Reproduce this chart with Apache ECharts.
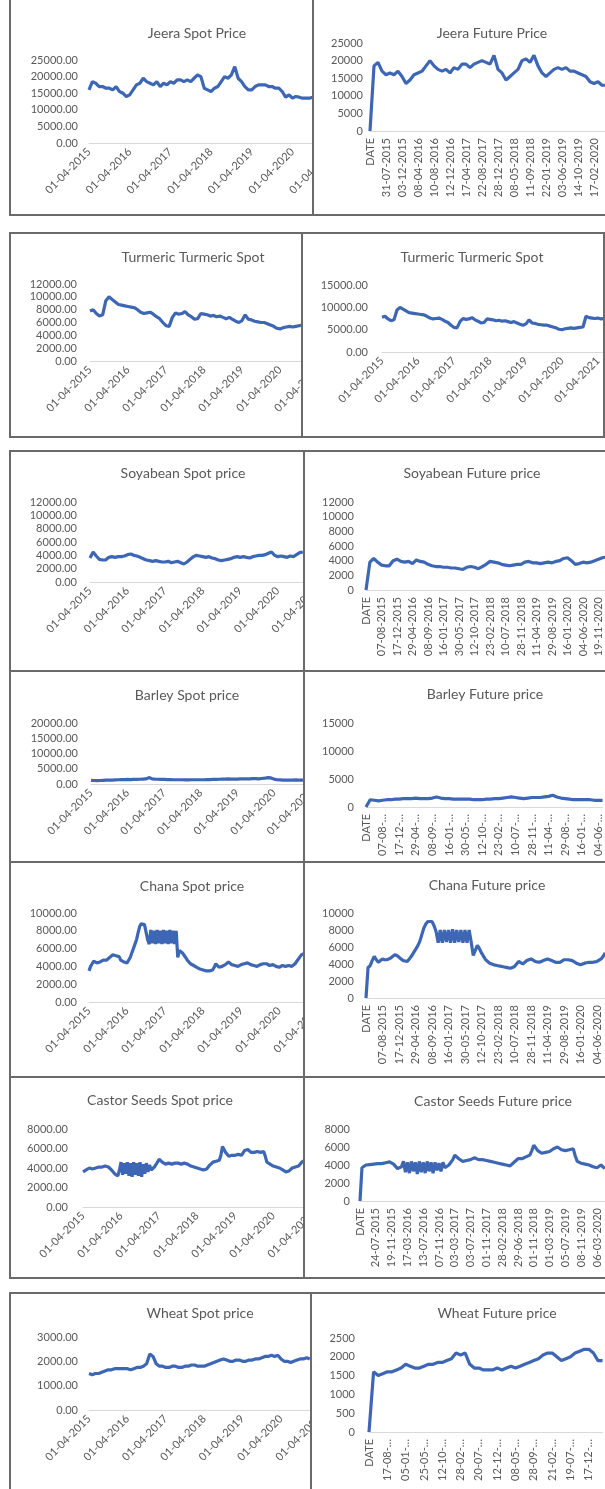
<!DOCTYPE html>
<html><head><meta charset="utf-8">
<script src="https://cdn.jsdelivr.net/npm/echarts@6/dist/echarts.min.js"></script>
<style>
html,body{margin:0;padding:0;background:#fff;}
#page{position:relative;width:605px;height:1489px;overflow:hidden;background:#fff;}
.clip{position:absolute;overflow:hidden;}
.chart{position:absolute;left:0;top:0;}
.ln{position:absolute;background:#6a6a6a;}
</style></head><body><div id="page"></div>
<script>
// ---------- tick labels ----------
const spotYearLabels = ['01-04-2015','01-04-2016','01-04-2017','01-04-2018','01-04-2019','01-04-2020','01-04-2021'];
const jeeraFutureLabels = ['DATE','31-07-2015','03-12-2015','08-04-2016','10-08-2016','12-12-2016','17-04-2017','22-08-2017','28-12-2017','08-05-2018','11-09-2018','22-01-2019','03-06-2019','14-10-2019','17-02-2020'];
const soyabeanFutureLabels = ['DATE','07-08-2015','17-12-2015','29-04-2016','08-09-2016','16-01-2017','30-05-2017','12-10-2017','23-02-2018','10-07-2018','28-11-2018','11-04-2019','29-08-2019','16-01-2020','04-06-2020','19-11-2020'];
const chanaFutureLabels = ['DATE','07-08-2015','17-12-2015','29-04-2016','08-09-2016','16-01-2017','30-05-2017','12-10-2017','23-02-2018','10-07-2018','28-11-2018','11-04-2019','29-08-2019','16-01-2020','04-06-2020'];
const barleyFutureLabels = ['DATE','07-08-…','17-12-…','29-04-…','08-09-…','16-01-…','30-05-…','12-10-…','23-02-…','10-07-…','28-11-…','11-04-…','29-08-…','16-01-…','04-06-…'];
const castorFutureLabels = ['DATE','24-07-2015','19-11-2015','17-03-2016','13-07-2016','07-11-2016','03-03-2017','03-07-2017','01-11-2017','28-02-2018','29-06-2018','01-11-2018','01-03-2019','05-07-2019','08-11-2019','06-03-2020'];
const wheatFutureLabels = ['DATE','17-08-…','05-01-…','25-05-…','12-10-…','28-02-…','20-07-…','12-12-…','08-05-…','28-09-…','21-02-…','19-07-…','17-12-…'];

// ---------- series values ----------
// spot: monthly from Apr-2015 (chana & castor: twice a month); future: 4 readings per label step (chana & castor: 8)
const jeeraSpot = [16000,18500,18000,17000,17000,16500,16500,16000,17000,15500,15000,14000,
 14500,16000,17500,18000,19500,18500,18000,17500,18500,17000,18000,17500,
 18500,18000,19000,19000,18500,19000,18500,19500,20500,20000,16500,16000,
 15500,16500,17000,18500,20000,19500,20500,23000,19500,18500,17000,16000,
 16000,17000,17500,17500,17500,17000,17000,16500,16500,15500,13800,14500,
 13500,14000,13800,13500,13500,13500,13800];
const jeeraFuture = [0,18500,19500,17000,16000,16500,16000,17000,15500,13500,14500,16000,
 16500,17000,18500,20000,18500,17500,17000,17500,16500,18000,17500,19000,
 19000,18000,19000,19500,20000,19500,19000,21500,17500,16500,14500,15500,
 16500,17500,20000,20500,19500,21500,18500,16500,15500,16500,17500,18000,
 17500,18000,17000,17000,16500,16000,15500,14000,13500,14000,13000,13000];
const turmericSpot = [7800,8000,7400,7000,7200,9400,10000,9600,9200,8800,8700,8600,
 8500,8400,8300,8000,7600,7400,7500,7600,7300,6900,6600,6000,
 5500,5400,6800,7500,7300,7400,7700,7200,6900,6500,6600,7400,
 7300,7200,7000,7100,6900,7000,6800,6600,6800,6500,6200,6000,
 6300,7200,6500,6400,6200,6100,6000,6000,5800,5600,5400,5100,
 5000,5200,5300,5400,5300,5400,5500,5600,8000,7700,7600,7500,
 7600,7400,7500];
const soyabeanSpot = [3600,4500,3900,3400,3300,3300,3700,3800,3700,3800,3800,3900,
 4100,4200,4000,3900,3700,3500,3300,3200,3100,3200,3100,3000,
 3000,3100,2900,3000,3100,2900,2700,3000,3400,3800,4000,3900,
 3800,3700,3800,3600,3500,3300,3200,3300,3400,3500,3700,3800,
 3700,3800,3700,3600,3800,3900,4000,4000,4100,4300,4500,4000,
 3800,3900,3800,3700,3900,3800,4100,4400,4500];
const soyabeanFuture = [0,3800,4300,3800,3400,3300,3300,4000,4200,3900,3800,3900,
 3600,4100,3900,3800,3500,3300,3200,3200,3100,3100,3000,3000,
 2900,2800,3100,3200,3100,2900,3200,3500,3900,3800,3700,3500,
 3400,3300,3400,3500,3500,3800,3900,3700,3700,3600,3700,3800,
 3700,3900,4000,4300,4400,4000,3500,3600,3800,3700,3800,4000,
 4200,4400,4500];
const barleySpot = [1200,1150,1100,1150,1200,1250,1300,1300,1350,1400,1450,1450,
 1500,1450,1500,1500,1550,1600,1650,2100,1700,1600,1550,1500,
 1500,1450,1450,1400,1400,1400,1400,1350,1350,1400,1400,1400,
 1400,1400,1450,1450,1500,1500,1550,1600,1600,1650,1600,1600,
 1600,1650,1650,1700,1700,1750,1750,1700,1800,1900,2100,2000,
 1600,1400,1350,1300,1300,1300,1300,1350,1300,1300,1300];
const barleyFuture = [0,1300,1200,1100,1200,1300,1300,1400,1400,1500,1500,1500,
 1600,1500,1500,1500,1600,1800,1600,1500,1500,1400,1400,1400,
 1400,1400,1300,1300,1300,1400,1400,1500,1500,1600,1700,1800,
 1700,1600,1500,1600,1700,1700,1700,1800,1900,2100,1800,1600,
 1500,1400,1300,1300,1300,1300,1300,1200,1200,1200];
const chanaSpot = [3500,4000,4300,4600,4600,4400,4400,4500,4600,4700,4800,4700,
 4900,5000,5100,5300,5300,5200,5300,5100,4700,4600,4500,4400,
 4400,4600,5000,5500,6000,6500,7000,7800,8500,8800,9000,8700,
 8800,7000,6500,8100,6600,8000,6500,8100,6600,8000,6500,8100,
 6600,8000,6500,8100,6600,8000,6500,8000,5000,5800,6000,5500,
 5300,5000,4700,4500,4300,4200,4100,4000,3900,3800,3700,3650,
 3600,3550,3500,3500,3500,3550,3600,3900,4300,4100,3900,3900,
 4000,4100,4200,4400,4500,4300,4200,4150,4100,4050,4000,4100,
 4200,4250,4300,4350,4400,4300,4200,4150,4100,4050,4000,4100,
 4200,4250,4300,4300,4300,4200,4100,4150,4200,4100,4000,3950,
 3900,4000,4100,4050,4000,4050,4100,4050,4000,4100,4300,4500,
 4800,5000,5300,5400,5500];
const chanaFuture = [0,3600,3800,4400,4900,4500,4200,4400,4600,4500,4500,4600,
 4700,4900,5100,5000,4800,4600,4400,4350,4300,4600,4900,5300,
 5700,6100,6600,7400,8200,8700,9000,9000,9000,8500,7800,6500,
 8000,6500,8000,6600,8000,6500,8100,6500,8000,6600,8000,6500,
 8000,6500,8000,6600,5000,5600,6200,5800,5300,4900,4500,4300,
 4100,4000,3900,3850,3800,3750,3700,3650,3600,3550,3500,3600,
 3700,4000,4300,4150,4000,4200,4400,4500,4600,4450,4300,4250,
 4200,4300,4400,4500,4600,4500,4400,4300,4200,4200,4200,4350,
 4500,4500,4500,4450,4400,4250,4100,4000,3900,4000,4100,4150,
 4200,4200,4200,4250,4300,4450,4600,4900,5300];
const castorSpot = [3600,3700,3800,3900,4000,4000,3900,3950,4000,4050,4100,4100,
 4100,4150,4200,4200,4100,4000,3800,3600,3400,3300,3200,3800,
 4600,3300,4500,3400,4600,3200,4500,3100,4600,3300,4500,3200,
 4600,3100,4400,3400,4500,3600,4300,3800,4000,4100,4300,4600,
 4900,4800,4600,4500,4400,4450,4500,4400,4400,4500,4500,4500,
 4500,4450,4400,4450,4500,4450,4400,4300,4200,4150,4100,4050,
 4000,3950,3900,3850,3800,3850,3900,4100,4300,4500,4600,4650,
 4700,4750,4800,5300,6200,5900,5600,5400,5200,5250,5300,5300,
 5300,5350,5400,5350,5300,5500,5800,5900,5900,5700,5600,5600,
 5600,5650,5700,5650,5600,5650,5700,5200,4600,4500,4400,4300,
 4200,4150,4100,4050,4000,3900,3800,3700,3600,3650,3700,3850,
 4000,4050,4100,4150,4200,4400,4600,4700,4800];
const castorFuture = [0,3700,3800,4000,4100,4050,4000,4100,4200,4150,4100,4150,
 4200,4250,4300,4350,4400,4100,3900,3600,3400,3800,4400,3200,
 4300,3100,4400,3300,4300,3000,4400,3200,4300,3100,4400,3300,
 4300,3100,4300,3400,4200,3300,4300,3700,3900,4000,4200,4600,
 5100,4900,4700,4500,4400,4450,4500,4550,4600,4700,4800,4700,
 4600,4600,4600,4550,4500,4450,4400,4350,4300,4250,4200,4150,
 4100,4050,4000,3950,3900,4100,4300,4500,4700,4700,4700,4800,
 4900,5000,5100,5600,6200,5900,5600,5400,5300,5350,5400,5450,
 5500,5600,5800,5900,6000,5800,5700,5650,5600,5650,5700,5750,
 5800,5000,4400,4300,4200,4150,4100,4050,4000,3900,3800,3750,
 3700,3850,4000,3800,3600];
const wheatSpot = [1500,1450,1500,1500,1550,1600,1650,1650,1700,1700,1700,1700,
 1700,1650,1700,1750,1750,1800,1900,2300,2200,1900,1800,1800,
 1750,1750,1800,1800,1750,1750,1800,1800,1850,1850,1800,1800,
 1800,1850,1900,1950,2000,2050,2100,2050,2000,2000,2050,2050,
 2000,2000,2050,2050,2100,2100,2150,2200,2200,2250,2200,2250,
 2100,2000,2000,1950,2000,2050,2100,2100,2150,2100];
const wheatFuture = [0,1600,1500,1550,1600,1600,1650,1700,1800,1750,1700,1700,
 1750,1800,1800,1850,1850,1900,1950,2100,2050,2100,1800,1700,
 1700,1650,1650,1650,1700,1650,1700,1750,1700,1750,1800,1850,
 1900,1950,2050,2100,2100,2000,1900,1950,2000,2100,2150,2200,
 2200,2100,1900,1900];

// ---------- layout (page pixels) ----------
const panels = [
 {clip:[11,0,312,214], title:'Jeera Spot Price', tx:197, ty:33, yMax:25000, yInt:5000, dec:2, yTop:60, yBot:143, lblR:78, x0:89, step:3.39, sub:1, kind:'spot', data:jeeraSpot},
 {clip:[314,0,605,214], title:'Jeera Future Price', tx:492, ty:33, yMax:25000, yInt:5000, dec:0, yTop:43, yBot:131, lblR:363, x0:370, step:4, sub:1, kind:'fut', labels:jeeraFutureLabels, data:jeeraFuture},
 {clip:[11,234,301,436], title:'Turmeric Turmeric Spot', tx:193, ty:257, yMax:12000, yInt:2000, dec:2, yTop:284, yBot:361, lblR:77, x0:90, step:3.167, sub:1, kind:'spot', data:turmericSpot},
 {clip:[303,234,603,436], title:'Turmeric Turmeric Spot', tx:472, ty:257, yMax:15000, yInt:5000, dec:2, yTop:285, yBot:352, lblR:368, x0:382, step:3.0, sub:1, kind:'spot', data:turmericSpot},
 {clip:[11,452,303,670], title:'Soyabean Spot price', tx:183, ty:473, yMax:12000, yInt:2000, dec:2, yTop:502, yBot:582, lblR:77, x0:90, step:3.13, sub:1, kind:'spot', data:soyabeanSpot},
 {clip:[305,452,605,670], title:'Soyabean Future price', tx:472, ty:473, yMax:12000, yInt:2000, dec:0, yTop:502, yBot:590, lblR:354, x0:366, step:3.875, sub:1, kind:'fut', labels:soyabeanFutureLabels, data:soyabeanFuture},
 {clip:[11,672,303,861], title:'Barley Spot price', tx:187, ty:695, yMax:20000, yInt:5000, dec:2, yTop:723, yBot:784, lblR:78, x0:91, step:3.05, sub:1, kind:'spot', data:barleySpot},
 {clip:[305,672,605,861], title:'Barley Future price', tx:485, ty:694, yMax:15000, yInt:5000, dec:0, yTop:723, yBot:807, lblR:354, x0:366, step:4.15, sub:1, kind:'fut', labels:barleyFutureLabels, data:barleyFuture},
 {clip:[11,863,303,1076], title:'Chana Spot price', tx:192, ty:886, yMax:10000, yInt:2000, dec:2, yTop:913, yBot:1002, lblR:77, x0:89, step:3.17, sub:2, kind:'spot', data:chanaSpot},
 {clip:[305,863,605,1076], title:'Chana Future price', tx:487, ty:885, yMax:10000, yInt:2000, dec:0, yTop:913, yBot:998, lblR:354, x0:366, step:4.125, sub:2, kind:'fut', labels:chanaFutureLabels, data:chanaFuture},
 {clip:[11,1078,303,1277], title:'Castor Seeds Spot price', tx:160, ty:1100, yMax:8000, yInt:2000, dec:2, yTop:1129, yBot:1207, lblR:68, x0:83, step:3.17, sub:2, kind:'spot', data:castorSpot},
 {clip:[305,1078,605,1277], title:'Castor Seeds Future price', tx:493, ty:1101, yMax:8000, yInt:2000, dec:0, yTop:1129, yBot:1201, lblR:350, x0:360, step:3.95, sub:2, kind:'fut', labels:castorFutureLabels, data:castorFuture},
 {clip:[11,1294,310,1489], title:'Wheat Spot price', tx:200, ty:1313, yMax:3000, yInt:1000, dec:2, yTop:1337, yBot:1410, lblR:78, x0:89, step:3.2, sub:1, kind:'spot', data:wheatSpot},
 {clip:[312,1294,605,1489], title:'Wheat Future price', tx:497, ty:1313, yMax:2500, yInt:500, dec:0, yTop:1338, yBot:1432, lblR:355, x0:369, step:4.58, sub:1, kind:'fut', labels:wheatFutureLabels, data:wheatFuture}
];

const borders = [
 [9,0,2,216],[9,214,596,2],[312,0,2,216],
 [9,232,596,2],[9,436,596,2],[9,232,2,206],[603,232,2,206],[301,232,2,206],
 [9,450,596,2],[9,670,596,2],[9,861,596,2],[9,1076,596,2],[9,1277,596,2],[9,450,2,829],[303,450,2,829],
 [9,1292,596,2],[9,1292,2,197],[310,1292,2,197]
];

const FONT = 'Lato, "Open Sans", sans-serif';
const TXT = '#595959';
const LINE = '#3d66b5';
const page = document.getElementById('page');

panels.forEach(p => {
  const [cx0, cy0, cx1, cy1] = p.clip;
  const clip = document.createElement('div');
  clip.className = 'clip';
  Object.assign(clip.style, {left: cx0+'px', top: cy0+'px', width: (cx1-cx0)+'px', height: (cy1-cy0)+'px'});
  page.appendChild(clip);

  const sub = p.sub || 1;
  const step = p.step / sub;
  let n, every, labelList, rotate;
  if (p.kind === 'spot') {
    every = 12 * sub; labelList = spotYearLabels; rotate = 45;
    n = Math.max(p.data.length, (labelList.length - 1) * every + 4 * sub);
  } else {
    every = 4 * sub; labelList = p.labels; rotate = 90;
    n = Math.max(p.data.length, (labelList.length - 1) * every + 1);
  }
  const cats = [];
  for (let i = 0; i < n; i++) cats.push(String(i));
  const xEnd = p.x0 + step * (n - 1);
  const W = Math.max(cx1 - cx0, Math.ceil(xEnd - cx0 + 60));
  const H = cy1 - cy0;
  const el = document.createElement('div');
  el.className = 'chart';
  el.style.width = W + 'px'; el.style.height = H + 'px';
  clip.appendChild(el);

  const chart = echarts.init(el, null, {renderer: 'canvas', width: W, height: H});
  chart.setOption({
    animation: false,
    backgroundColor: 'transparent',
    graphic: [{
      type: 'text', x: p.tx - cx0, y: p.ty - cy0,
      style: {text: p.title, textAlign: 'center', textVerticalAlign: 'middle',
              fontFamily: FONT, fontSize: 14, fill: TXT}
    }],
    grid: {left: p.x0 - cx0, top: p.yTop - cy0, width: step * (n - 1), height: p.yBot - p.yTop,
           containLabel: false, outerBoundsMode: 'none'},
    xAxis: {
      type: 'category', data: cats, boundaryGap: false,
      axisLine: {show: true, lineStyle: {color: '#d9d9d9', width: 1}},
      axisTick: {show: false},
      splitLine: {show: false},
      axisLabel: {
        rotate: rotate, margin: 7, fontFamily: FONT, fontSize: 11, color: TXT,
        interval: (idx) => idx % every === 0,
        formatter: (v, idx) => (idx % every === 0 && labelList[idx / every]) ? labelList[idx / every] : ''
      }
    },
    yAxis: {
      type: 'value', min: 0, max: p.yMax, interval: p.yInt,
      axisLine: {show: false}, axisTick: {show: false}, splitLine: {show: false},
      axisLabel: {margin: p.x0 - p.lblR, fontFamily: FONT, fontSize: 11, color: TXT,
                  formatter: (v) => v.toFixed(p.dec)}
    },
    series: [{
      type: 'line', data: p.data, showSymbol: false, symbol: 'none',
      lineStyle: {color: LINE, width: 3.2}, itemStyle: {color: LINE},
      clip: false
    }]
  });
});

borders.forEach(b => {
  const d = document.createElement('div');
  d.className = 'ln';
  Object.assign(d.style, {left: b[0]+'px', top: b[1]+'px', width: b[2]+'px', height: b[3]+'px'});
  page.appendChild(d);
});
</script></body></html>
